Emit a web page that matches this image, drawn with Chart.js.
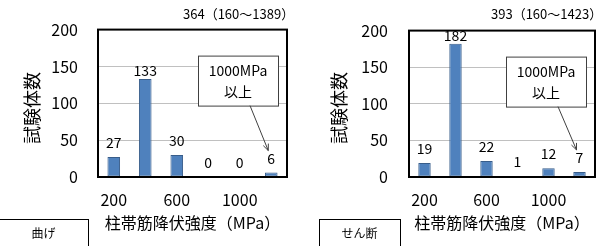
<!DOCTYPE html>
<html>
<head>
<meta charset="utf-8">
<script src="https://cdn.jsdelivr.net/npm/chart.js@4/dist/chart.umd.min.js"></script>
<style>
  body { margin: 0; background: #fff; }
  #wrap { position: relative; width: 602px; height: 246px; overflow: hidden; }
  .half { position: absolute; top: 0; width: 301px; height: 246px; }
</style>
</head>
<body>
<div id="wrap">
  <div class="half" style="left:0"><canvas id="bending" width="301" height="246"></canvas></div>
  <div class="half" style="left:301px"><canvas id="shear" width="301" height="246"></canvas></div>
</div>
<script>
// --- données ---
const categories = ['200', '400', '600', '800', '1000', '1200'];
const tickLabels = ['200', '', '600', '', '1000', ''];
const bendingCounts = [27, 133, 30, 0, 0, 6];
const shearCounts = [19, 182, 22, 1, 12, 7];
const bendingSummary = '364（160～1389）';
const shearSummary = '393（160～1423）';
const bendingName = '曲げ';
const shearName = 'せん断';
const yTitle = '試験体数';
const xTitle = '柱帯筋降伏強度（MPa）';
const noteLines = ['1000MPa', '以上'];

const FONT = '"Noto Sans CJK JP", "Noto Sans", sans-serif';

// dessin des textes, cadre, annotation
const decor = {
  id: 'decor',
  afterDraw(chart, args, o) {
    const ctx = chart.ctx;
    const a = chart.chartArea;
    ctx.save();

    // cadre de la zone de tracé
    ctx.strokeStyle = '#000';
    ctx.lineWidth = 2;
    ctx.strokeRect(a.left, a.top, a.right - a.left, a.bottom - a.top);

    // étiquettes des barres
    const meta = chart.getDatasetMeta(0);
    const values = chart.data.datasets[0].data;
    ctx.fillStyle = '#000';
    ctx.font = '14px ' + FONT;
    ctx.textAlign = 'center';
    ctx.textBaseline = 'alphabetic';
    meta.data.forEach((bar, i) => {
      const gap = values[i] > 100 ? 3 : 9;
      ctx.fillText(String(values[i]), bar.x, bar.y - gap);
    });

    // total (min～max)
    ctx.font = '13px ' + FONT;
    ctx.textAlign = 'left';
    ctx.fillText(o.summary, a.right - 104, 19);

    // encadré "1000MPa 以上"
    const bw = 80, bh = 50;
    const bx = a.right - 9 - bw, by = a.top + 26;
    ctx.fillStyle = '#fff';
    ctx.fillRect(bx, by, bw, bh);
    ctx.strokeStyle = '#404040';
    ctx.lineWidth = 1;
    ctx.strokeRect(bx + 0.5, by + 0.5, bw, bh);
    ctx.fillStyle = '#000';
    ctx.font = '14px ' + FONT;
    ctx.textAlign = 'center';
    ctx.fillText(noteLines[0], bx + bw / 2, by + 20);
    ctx.fillText(noteLines[1], bx + bw / 2, by + 41);

    // flèche vers la dernière barre
    const last = meta.data[meta.data.length - 1];
    const x0 = bx + 52, y0 = by + bh;
    const x1 = last.x - 3, y1 = last.y - 22;
    ctx.beginPath();
    ctx.moveTo(x0, y0);
    ctx.lineTo(x1, y1);
    ctx.stroke();
    const ang = Math.atan2(y1 - y0, x1 - x0);
    ctx.beginPath();
    ctx.moveTo(x1 - 7 * Math.cos(ang - 0.4), y1 - 7 * Math.sin(ang - 0.4));
    ctx.lineTo(x1, y1);
    ctx.lineTo(x1 - 7 * Math.cos(ang + 0.4), y1 - 7 * Math.sin(ang + 0.4));
    ctx.stroke();

    // titre axe Y
    ctx.font = '18px ' + FONT;
    ctx.save();
    ctx.translate(a.left - o.yTitleOff, 108);
    ctx.rotate(-Math.PI / 2);
    ctx.textBaseline = 'middle';
    ctx.fillText(yTitle, 0, 0);
    ctx.restore();

    // titre axe X
    ctx.font = '16px ' + FONT;
    ctx.textBaseline = 'middle';
    ctx.fillText(xTitle, (a.left + a.right) / 2, 223);

    // étiquette du cas
    ctx.strokeStyle = '#000';
    ctx.strokeRect(o.tagX + 0.5, 219.5, o.tagW, 30);
    ctx.font = '12px ' + FONT;
    ctx.fillText(o.name, o.tagX + o.tagW / 2, 233);

    ctx.restore();
  }
};

function makeChart(id, counts, opts) {
  return new Chart(document.getElementById(id), {
    type: 'bar',
    data: {
      labels: categories,
      datasets: [{
        data: counts,
        backgroundColor: '#4f81bd',
        borderColor: '#385d8a',
        borderWidth: 1,
        borderSkipped: false,
        barPercentage: 0.4,
        categoryPercentage: 1
      }]
    },
    options: {
      responsive: false,
      animation: false,
      layout: { padding: { left: 0, right: opts.padRight, top: opts.padTop, bottom: 0 } },
      plugins: {
        legend: { display: false },
        tooltip: { enabled: false },
        decor: opts
      },
      scales: {
        x: {
          grid: { display: false, drawTicks: false },
          border: { display: false },
          ticks: {
            autoSkip: false,
            maxRotation: 0,
            padding: 13,
            color: '#000',
            font: { family: FONT, size: 16 },
            callback: (v, i) => tickLabels[i]
          },
          afterFit: s => { s.height = 69; }
        },
        y: {
          min: 0,
          max: 200,
          grid: { color: '#c0c0c0', drawTicks: false },
          border: { display: false },
          ticks: {
            stepSize: 50,
            padding: opts.yPad,
            color: '#000',
            font: { family: FONT, size: 16 }
          },
          afterFit: s => { s.width = opts.yWidth; }
        }
      }
    },
    plugins: [decor]
  });
}

makeChart('bending', bendingCounts, {
  padRight: 14, padTop: 23, yWidth: 98, yPad: 20, yTitleOff: 66,
  summary: bendingSummary, name: bendingName, tagX: -1, tagW: 89
});
makeChart('shear', shearCounts, {
  padRight: 7, padTop: 24, yWidth: 108, yPad: 21, yTitleOff: 70,
  summary: shearSummary, name: shearName, tagX: 18, tagW: 81
});
</script>
</body>
</html>
